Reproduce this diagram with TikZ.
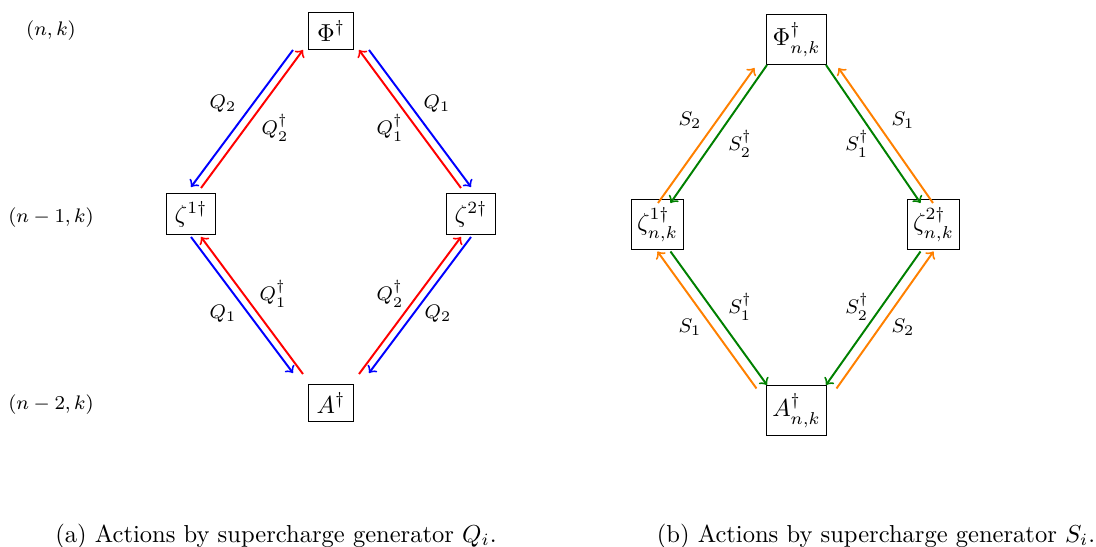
\documentclass[tikz,border=0pt]{standalone}
\definecolor{dkgreen}{RGB}{0,128,0}
\definecolor{orng}{RGB}{255,128,0}
\begin{document}
\begin{tikzpicture}[x=0.4074pt,y=-0.4074pt,
  box/.style={draw,inner sep=3.33pt},
  sbox/.style={draw,inner xsep=2.4pt,inner ysep=3.33pt},
  lbl/.style={font=\footnotesize},
  arr/.style={->,thick},
]
\useasboundingbox (0,0) rectangle (1096,547);
% row labels
\node[lbl] (r0) at (51,31) {$(n,k)$};
\node[lbl] (r1) at (51,218) {$(n-1,k)$};
\node[lbl] (r2) at (51,405) {$(n-2,k)$};
% left diagram
\node[box] (p) at (331,31) {$\Phi^\dagger$};
\node[box] (z1) at (191,214) {$\zeta^{1\dagger}$};
\node[box] (z2) at (471,214) {$\zeta^{2\dagger}$};
\node[box] (a) at (331,403) {$A^\dagger$};
\draw[arr,blue] ([shift={(-38,19)}]p.center) -- ([shift={(0,-27)}]z1.center);
\draw[arr,red] ([shift={(10,-26)}]z1.center) -- ([shift={(-28,19)}]p.center);
\draw[arr,blue] ([shift={(38,19)}]p.center) -- ([shift={(0,-27)}]z2.center);
\draw[arr,red] ([shift={(-10,-26)}]z2.center) -- ([shift={(28,19)}]p.center);
\draw[arr,blue] ([shift={(0,23)}]z1.center) -- ([shift={(-38,-30)}]a.center);
\draw[arr,red] ([shift={(-28,-29)}]a.center) -- ([shift={(10,23)}]z1.center);
\draw[arr,blue] ([shift={(0,23)}]z2.center) -- ([shift={(38,-30)}]a.center);
\draw[arr,red] ([shift={(28,-29)}]a.center) -- ([shift={(-10,23)}]z2.center);
\node[lbl] (lq2) at (223,104) {$Q_2$};
\node[lbl] (lq2d) at (275,128) {$Q_2^\dagger$};
\node[lbl] (lq1d) at (390,128) {$Q_1^\dagger$};
\node[lbl] (lq1) at (437,104) {$Q_1$};
\node[lbl] (lq1db) at (273,294) {$Q_1^\dagger$};
\node[lbl] (lq1b) at (223,314) {$Q_1$};
\node[lbl] (lq2db) at (390,294) {$Q_2^\dagger$};
\node[lbl] (lq2b) at (438,314) {$Q_2$};
% right diagram
\node[sbox] (P) at (796.5,39.5) {$\Phi^\dagger_{n,k}$};
\node[sbox] (Z1) at (657.5,224.5) {$\zeta^{1\dagger}_{n,k}$};
\node[sbox] (Z2) at (933.5,224.5) {$\zeta^{2\dagger}_{n,k}$};
\node[sbox] (A) at (796.5,410.5) {$A^\dagger_{n,k}$};
\draw[arr,dkgreen] ([shift={(-29.5,25.5)}]P.center) -- ([shift={(13,-21.5)}]Z1.center);
\draw[arr,orng] ([shift={(0.5,-21.5)}]Z1.center) -- ([shift={(-42,28.5)}]P.center);
\draw[arr,dkgreen] ([shift={(29.5,25.5)}]P.center) -- ([shift={(-13,-21.5)}]Z2.center);
\draw[arr,orng] ([shift={(-0.5,-21.5)}]Z2.center) -- ([shift={(42,28.5)}]P.center);
\draw[arr,dkgreen] ([shift={(13,27)}]Z1.center) -- ([shift={(-29.5,-25.5)}]A.center);
\draw[arr,orng] ([shift={(-40,-22)}]A.center) -- ([shift={(0,27)}]Z1.center);
\draw[arr,dkgreen] ([shift={(-13,27)}]Z2.center) -- ([shift={(29.5,-25.5)}]A.center);
\draw[arr,orng] ([shift={(40,-22)}]A.center) -- ([shift={(0,27)}]Z2.center);
\node[lbl] (ls2) at (690,120) {$S_2$};
\node[lbl] (ls2d) at (740,144) {$S_2^\dagger$};
\node[lbl] (ls1d) at (857,144) {$S_1^\dagger$};
\node[lbl] (ls1) at (903,120) {$S_1$};
\node[lbl] (ls1db) at (740,307) {$S_1^\dagger$};
\node[lbl] (ls1b) at (690,327) {$S_1$};
\node[lbl] (ls2db) at (857,307) {$S_2^\dagger$};
\node[lbl] (ls2b) at (903,327) {$S_2$};
% captions
\node (capa) at (276,536) {(a) Actions by supercharge generator $Q_i$.};
\node (capb) at (876,536) {(b) Actions by supercharge generator $S_i$.};
\end{tikzpicture}
\end{document}
